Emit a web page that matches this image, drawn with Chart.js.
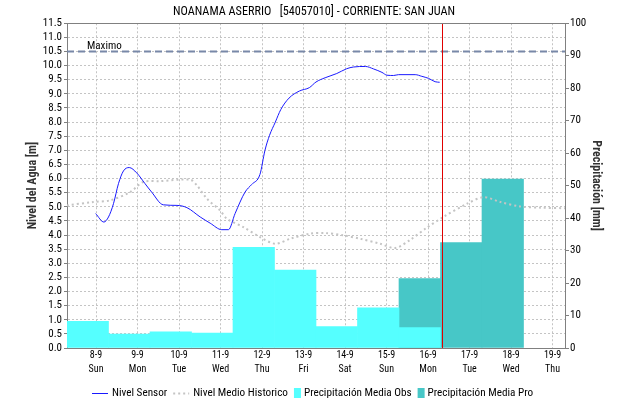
<!DOCTYPE html>
<html>
<head>
<meta charset="utf-8">
<title>Noanama Aserrio</title>
<script src="https://cdn.jsdelivr.net/npm/chart.js@4.4.1/dist/chart.umd.min.js"></script>
<style>
  html, body { margin: 0; padding: 0; background: #fff; }
  #wrap { width: 621px; height: 401px; }
</style>
</head>
<body>
<div id="wrap"><canvas id="nivel-chart" width="621" height="401"></canvas></div>
<script>
// x values are days counted from the "8-9" tick
const dateLabels = ['8-9', '9-9', '10-9', '11-9', '12-9', '13-9', '14-9', '15-9', '16-9', '17-9', '18-9', '19-9'];
const dayLabels = ['Sun', 'Mon', 'Tue', 'Wed', 'Thu', 'Fri', 'Sat', 'Sun', 'Mon', 'Tue', 'Wed', 'Thu'];

const sensorDays = [-0.01, 0.19, 0.30, 0.42, 0.54, 0.66, 0.80, 0.98, 1.18, 1.34,
    1.62, 1.95, 2.19, 2.51, 2.75, 3.03, 3.19, 3.35, 3.59, 3.75,
    3.95, 4.07, 4.18, 4.32, 4.45, 4.65, 4.90, 5.14, 5.30, 5.52,
    5.80, 6.04, 6.20, 6.49, 6.69, 6.89, 7.01, 7.17, 7.29, 7.69,
    7.85, 8.01, 8.17, 8.28];
const sensorLevel = [4.76, 4.46, 4.64, 5.11, 5.82, 6.27, 6.39, 6.20, 5.82, 5.52,
    5.07, 5.05, 4.97, 4.64, 4.42, 4.19, 4.19, 4.76, 5.52, 5.79,
    6.15, 7.00, 7.53, 8.00, 8.44, 8.85, 9.10, 9.22, 9.42, 9.57,
    9.72, 9.89, 9.95, 9.97, 9.88, 9.76, 9.66, 9.65, 9.68, 9.68,
    9.62, 9.55, 9.43, 9.41];

const historicDays = [-0.7, -0.07, 0.34, 0.82, 1.14, 1.54, 2.27, 2.43, 2.67, 2.99,
    3.15, 3.55, 3.95, 4.32, 4.68, 5.16, 5.52, 5.96, 6.36, 6.85,
    7.21, 7.57, 7.97, 8.37, 8.94, 9.34, 9.74, 10.22, 10.70, 11.3];
const historicLevel = [5.05, 5.17, 5.23, 5.52, 5.88, 5.91, 5.96, 5.76, 5.29, 4.87,
    4.58, 4.28, 3.93, 3.69, 3.87, 4.05, 4.07, 3.99, 3.87, 3.69,
    3.54, 3.83, 4.26, 4.64, 5.11, 5.34, 5.17, 5.01, 4.97, 4.95];

const obsDays = [-0.2, 0.8, 1.8, 2.8, 3.8, 4.8, 5.8, 6.8, 7.8];
const obsRain = [8.2, 4.3, 5.0, 4.6, 31.0, 24.0, 6.6, 12.4, 6.3];
const proDays = [7.8, 8.8, 9.8];
const proRain = [21.4, 32.5, 52.0];

const nivelMaximo = 10.5;
const ahora = 8.33;   // current time marker

const FONT = '"Roboto Condensed", "Liberation Sans", Arial, sans-serif';

function toPoints(xs, ys) {
    return xs.map((x, i) => ({ x: x, y: ys[i] }));
}

// plot outline, Maximo line and the red "now" marker
const extrasPlugin = {
    id: 'extras',
    afterDatasetsDraw(chart) {
        const ctx = chart.ctx;
        const area = chart.chartArea;
        const yMax = chart.scales.y.getPixelForValue(nivelMaximo);
        const xNow = chart.scales.x.getPixelForValue(ahora);
        ctx.save();
        ctx.strokeStyle = '#7888a8';
        ctx.lineWidth = 2;
        ctx.setLineDash([7, 4]);
        ctx.beginPath();
        ctx.moveTo(area.left, yMax);
        ctx.lineTo(area.right, yMax);
        ctx.stroke();

        ctx.setLineDash([]);
        ctx.fillStyle = '#000';
        ctx.font = '11px ' + FONT;
        ctx.textBaseline = 'alphabetic';
        ctx.fillText('Maximo', area.left + 20, yMax - 2);

        ctx.strokeStyle = '#e00000';
        ctx.lineWidth = 1;
        ctx.beginPath();
        ctx.moveTo(Math.round(xNow) + 0.5, area.top);
        ctx.lineTo(Math.round(xNow) + 0.5, area.bottom);
        ctx.stroke();

        ctx.strokeStyle = '#808080';
        ctx.beginPath();
        ctx.moveTo(area.left, Math.round(area.top) + 0.5);
        ctx.lineTo(area.right, Math.round(area.top) + 0.5);
        ctx.stroke();
        ctx.restore();
    }
};

// legend drawn along the bottom like the original
const legendPlugin = {
    id: 'bottomLegend',
    afterDraw(chart) {
        const ctx = chart.ctx;
        ctx.save();
        ctx.font = '11.2px ' + FONT;
        ctx.textBaseline = 'middle';
        const items = chart.data.datasets.map(ds => {
            const isLine = ds.type === 'line';
            return {
                ds: ds,
                isLine: isLine,
                sw: isLine ? 16 : 7,
                gap: isLine ? 4 : 3,
                tw: ctx.measureText(ds.label).width
            };
        });
        const between = 6;
        let total = between * (items.length - 1);
        items.forEach(it => { total += it.sw + it.gap + it.tw; });
        let x = Math.round((chart.chartArea.left + chart.chartArea.right) / 2 - total / 2 - 3);
        const y = chart.height - 8;
        items.forEach(it => {
            if (it.isLine) {
                ctx.strokeStyle = it.ds.borderColor;
                ctx.lineWidth = it.ds.borderWidth;
                ctx.setLineDash(it.ds.borderDash || []);
                ctx.beginPath();
                ctx.moveTo(x, y + 0.5);
                ctx.lineTo(x + it.sw, y + 0.5);
                ctx.stroke();
                ctx.setLineDash([]);
            } else {
                ctx.fillStyle = it.ds.backgroundColor;
                ctx.fillRect(x, y - 5, it.sw, 10);
            }
            x += it.sw + it.gap;
            ctx.fillStyle = '#000';
            ctx.fillText(it.ds.label, x, y);
            x += it.tw + between;
        });
        ctx.restore();
    }
};

const ctx = document.getElementById('nivel-chart').getContext('2d');

const chart = new Chart(ctx, {
    type: 'bar',
    data: {
        datasets: [
            {
                type: 'line',
                label: 'Nivel Sensor',
                data: toPoints(sensorDays, sensorLevel),
                yAxisID: 'y',
                borderColor: '#1a1aff',
                borderWidth: 1,
                pointRadius: 0,
                cubicInterpolationMode: 'monotone',
                order: 0
            },
            {
                type: 'line',
                label: 'Nivel Medio Historico',
                data: toPoints(historicDays, historicLevel),
                yAxisID: 'y',
                borderColor: '#c4c4c4',
                borderWidth: 2,
                borderDash: [2, 3],
                pointRadius: 0,
                tension: 0.3,
                order: 1
            },
            {
                type: 'bar',
                label: 'Precipitación Media Obs',
                data: toPoints(obsDays, obsRain),
                yAxisID: 'y1',
                backgroundColor: '#55ffff',
                borderWidth: 0,
                grouped: false,
                barPercentage: 1,
                categoryPercentage: 1,
                order: 2
            },
            {
                type: 'bar',
                label: 'Precipitación Media Pro',
                data: toPoints(proDays, proRain),
                yAxisID: 'y1',
                backgroundColor: '#47c7c7',
                borderWidth: 0,
                grouped: false,
                barPercentage: 1,
                categoryPercentage: 1,
                order: 3
            }
        ]
    },
    options: {
        responsive: false,
        devicePixelRatio: 1,
        animation: false,
        layout: { padding: { top: 0, bottom: 20, left: 7, right: 0 } },
        plugins: {
            legend: { display: false },
            tooltip: { enabled: false },
            title: {
                display: true,
                text: 'NOANAMA ASERRIO   [54057010] - CORRIENTE: SAN JUAN',
                color: '#000',
                font: { family: FONT, size: 12.2, weight: 'normal', lineHeight: 1.25 },
                padding: { top: 4, bottom: 4 }
            }
        },
        scales: {
            x: {
                type: 'linear',
                min: -0.7,
                max: 11.3,
                offset: false,
                afterFit: s => { s.height = 33; },
                // one tick per day label
                afterBuildTicks: s => { s.ticks = dateLabels.map((d, i) => ({ value: i })); },
                grid: { color: '#c4c4c4', drawTicks: false, offset: false },
                border: { color: '#808080', dash: [2, 2] },
                ticks: {
                    autoSkip: false,
                    maxRotation: 0,
                    padding: 1,
                    color: '#000',
                    font: { family: FONT, size: 10, lineHeight: 1.35 },
                    callback: (v, i) => [dateLabels[i], dayLabels[i]]
                }
            },
            y: {
                type: 'linear',
                position: 'left',
                min: 0,
                max: 11.5,
                afterFit: s => { s.width = 60; },
                grid: { color: '#c4c4c4', tickColor: '#808080', tickLength: 3 },
                border: { color: '#808080', dash: [2, 2] },
                ticks: {
                    stepSize: 0.5,
                    autoSkip: false,
                    padding: 2,
                    color: '#000',
                    font: { family: FONT, size: 11 },
                    callback: v => v.toFixed(1)
                },
                title: {
                    display: true,
                    text: 'Nivel del Agua [m]',
                    color: '#333',
                    font: { family: FONT, size: 12, weight: 'bold' },
                    padding: { top: 19, bottom: 0 }
                }
            },
            y1: {
                type: 'linear',
                position: 'right',
                min: 0,
                max: 100,
                afterFit: s => { s.width = 56; },
                grid: { drawOnChartArea: false, tickColor: '#808080', tickLength: 4 },
                border: { color: '#808080' },
                ticks: {
                    stepSize: 10,
                    autoSkip: false,
                    padding: 1,
                    color: '#000',
                    font: { family: FONT, size: 11 }
                },
                title: {
                    display: true,
                    text: 'Precipitación [mm]',
                    color: '#333',
                    font: { family: FONT, size: 12, weight: 'bold' },
                    padding: { top: 18, bottom: 0 }
                }
            }
        }
    },
    plugins: [extrasPlugin, legendPlugin]
});
</script>
</body>
</html>
